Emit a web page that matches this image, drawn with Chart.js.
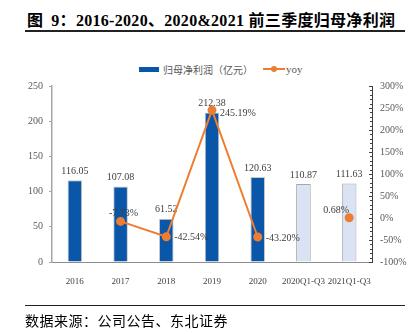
<!DOCTYPE html>
<html>
<head>
<meta charset="utf-8">
<script src="https://cdn.jsdelivr.net/npm/chart.js@4"></script>
<style>
  html, body { margin: 0; padding: 0; background: #fff; }
  body { width: 420px; height: 334px; position: relative; overflow: hidden; }
  .title { position: absolute; left: 27px; top: 7px; font: bold 16px "Liberation Serif", "Noto Sans CJK SC"; color: #000; white-space: nowrap; letter-spacing: 0.3px; }
  .title b { display: inline-block; width: 8px; }
  .rule { position: absolute; left: 25px; width: 380px; height: 1px; background: #222; }
  .foot { position: absolute; left: 25px; top: 310px; font: 14px "Liberation Serif", "Noto Sans CJK SC"; color: #000; white-space: nowrap; letter-spacing: 0.5px; }
  .legend { position: absolute; top: 60px; left: 139px; font: 10px "Noto Sans CJK SC"; color: #595959; white-space: nowrap; }
  .legend span { display: inline-block; vertical-align: middle; }
  .sw-bar { width: 20px; height: 5px; background: #0a56a8; margin-right: 4px; }
  .sw-line { width: 22px; height: 2px; background: #ed7d31; position: relative; margin-left: 10px; margin-right: 1px; }
  .sw-line i { position: absolute; left: 8px; top: -2px; width: 6px; height: 6px; border-radius: 3px; background: #ed7d31; }
  .yoy { font: 11px "Liberation Serif"; }
  #c { position: absolute; left: 0; top: 0; }
</style>
</head>
<body>
<div class="title">图<b></b>9：2016-2020、2020&amp;2021 前三季度归母净利润</div>
<div class="rule" style="top:30px;height:1.5px"></div>
<div class="legend"><span class="sw-bar"></span><span>归母净利润（亿元）</span><span class="sw-line"><i></i></span><span class="yoy">yoy</span></div>
<canvas id="c" width="420" height="334"></canvas>
<div class="rule" style="top:305px"></div>
<div class="foot">数据来源：公司公告、东北证券</div>
<script>
const categories = ['2016', '2017', '2018', '2019', '2020', '2020Q1-Q3', '2021Q1-Q3'];
const profit = [116.05, 107.08, 61.52, 212.38, 120.63, 110.87, 111.63];
const yoy = [null, -7.73, -42.54, 245.19, -43.20, null, 0.68];
const leftTicks = [0, 50, 100, 150, 200, 250];
const rightTicks = [-100, -50, 0, 50, 100, 150, 200, 250, 300];

const barColors = ['#0a56a8', '#0a56a8', '#0a56a8', '#0a56a8', '#0a56a8', '#dae3f3', '#dae3f3'];
const barBorders = ['#c9c9c9', '#c9c9c9', '#c9c9c9', '#c9c9c9', '#c9c9c9', '#a6a6a6', '#a6a6a6'];
// label offsets for the yoy points: [dx, dy, align]
const yoyLabelPos = [null, [3, -8, 'center'], [8, 1, 'left'], [8, 3, 'left'], [8, 1, 'left'], null, [-13, -7, 'center']];

const serif = '10px "Liberation Serif"';

const labelsPlugin = {
  id: 'labels',
  afterDatasetDraw(chart, args) {
    if (args.index !== 1) return;
    const ctx = chart.ctx;
    ctx.save();
    ctx.font = serif;
    ctx.fillStyle = '#404040';
    ctx.textAlign = 'center';
    ctx.textBaseline = 'bottom';
    args.meta.data.forEach((bar, i) => {
      ctx.fillText(profit[i].toFixed(2), bar.x, bar.y - 4);
    });
    ctx.restore();
  },
  afterDatasetsDraw(chart) {
    const ctx = chart.ctx;
    const meta = chart.getDatasetMeta(0);
    ctx.save();
    ctx.font = serif;
    ctx.fillStyle = '#404040';
    ctx.textBaseline = 'middle';
    meta.data.forEach((pt, i) => {
      if (yoy[i] === null) return;
      const p = yoyLabelPos[i];
      ctx.textAlign = p[2];
      ctx.fillText(yoy[i].toFixed(2) + '%', pt.x + p[0], pt.y + p[1]);
    });
    ctx.restore();
  },
  afterDraw(chart) {
    // minor ticks on the right axis, drawn inward
    const s = chart.scales.y1;
    const ctx = chart.ctx;
    ctx.save();
    ctx.strokeStyle = '#404040';
    ctx.lineWidth = 1;
    for (let v = s.min; v <= s.max; v += 10) {
      const y = Math.round(s.getPixelForValue(v)) + 0.5;
      const len = v % 50 === 0 ? 3 : 2;
      ctx.beginPath();
      ctx.moveTo(s.left, y);
      ctx.lineTo(s.left - len, y);
      ctx.stroke();
    }
    ctx.restore();
  }
};

const tickFont = { family: 'Liberation Serif', size: 10 };

new Chart(document.getElementById('c'), {
  type: 'bar',
  data: {
    labels: categories,
    datasets: [{
      type: 'line',
      label: 'yoy',
      data: yoy,
      yAxisID: 'y1',
      borderColor: '#ed7d31',
      backgroundColor: '#ed7d31',
      borderWidth: 2,
      pointRadius: 3.5,
      pointHoverRadius: 3.5,
      spanGaps: false,
      tension: 0
    }, {
      label: '归母净利润（亿元）',
      data: profit,
      yAxisID: 'y',
      backgroundColor: barColors,
      borderColor: barBorders,
      borderWidth: 1,
      categoryPercentage: 1,
      barPercentage: 0.32
    }]
  },
  options: {
    responsive: false,
    animation: false,
    layout: { padding: { top: 86, left: 0, right: 0, bottom: 0 } },
    plugins: { legend: { display: false }, tooltip: { enabled: false } },
    scales: {
      x: {
        grid: { display: false },
        border: { display: true, color: '#8c8c8c', width: 1 },
        ticks: { font: { family: 'Liberation Serif', size: 9 }, color: '#404040', padding: 6, maxRotation: 0, autoSkip: false },
        afterFit(s) { s.height = 72; }
      },
      y: {
        position: 'left',
        min: 0, max: 250,
        afterBuildTicks(s) { s.ticks = leftTicks.map(v => ({ value: v })); },
        grid: { drawOnChartArea: false, drawTicks: true, tickLength: 3, color: '#a6a6a6' },
        border: { display: true, color: '#a6a6a6', width: 1.5 },
        ticks: { font: tickFont, color: '#595959', padding: 6 },
        afterFit(s) { s.width = 52; }
      },
      y1: {
        position: 'right',
        min: -100, max: 300,
        afterBuildTicks(s) { s.ticks = rightTicks.map(v => ({ value: v })); },
        grid: { drawOnChartArea: false, drawTicks: false },
        border: { display: true, color: '#404040', width: 1 },
        ticks: { font: tickFont, color: '#595959', padding: 8, callback: v => v + '%' },
        afterFit(s) { s.width = 48; }
      }
    }
  },
  plugins: [labelsPlugin]
});
</script>
</body>
</html>
